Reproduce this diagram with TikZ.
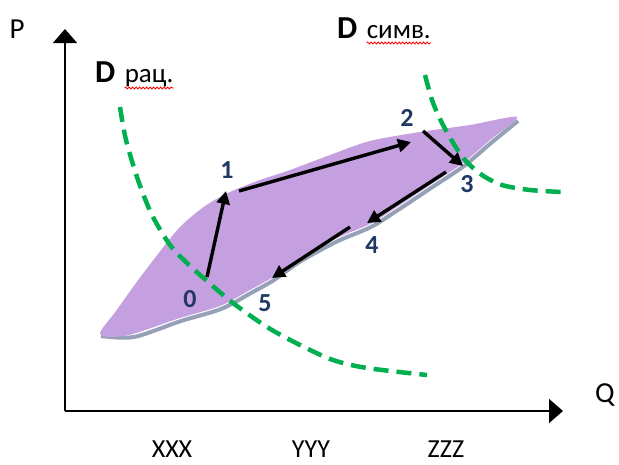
\documentclass[tikz,border=0pt]{standalone}
\usepackage{fontspec}
\setmainfont{Carlito}
\usetikzlibrary{arrows.meta,positioning,decorations.pathmorphing}
\definecolor{demGreen}{RGB}{0,176,80}
\definecolor{zoneLilac}{RGB}{197,160,224}
\definecolor{shadowGray}{RGB}{150,160,182}
\definecolor{stepNavy}{RGB}{31,56,100}

\begin{document}
\begin{tikzpicture}[x=1pt,y=-1pt,
    axis/.style={line width=1.6pt,-{Triangle[length=14pt,width=24pt]}},
    movearrow/.style={line width=3.4pt,-{Triangle[length=13pt,width=13pt]}},
    demand/.style={demGreen,line width=4.5pt,dash pattern=on 15pt off 8pt},
    steplab/.style={font=\fontsize{26}{28}\selectfont\bfseries,text=stepNavy,inner sep=0pt},
    axislab/.style={font=\fontsize{29}{31}\selectfont,inner sep=0pt},
    ticklab/.style={font=\fontsize{26}{28}\selectfont,inner sep=0pt},
    dlab/.style={font=\fontsize{32}{34}\selectfont\bfseries,inner sep=0pt},
    dword/.style={font=\fontsize{27}{29}\selectfont,inner sep=0pt},
    wavy/.style={red,line width=0.8pt,decorate,decoration={snake,amplitude=1pt,segment length=3.5pt}}
  ]
  \useasboundingbox (0,0) rectangle (619,464);

  % area of the cycle
  \draw[shadowGray,line width=4pt,shift={(1,3)}] plot[smooth] coordinates {
    (517,118) (490,140) (463,163) (430,185) (397,207) (370,224) (337,238)
    (300,258) (273,277) (250,290) (220,306) (180,318) (133,334) (100,333)};
  \fill[zoneLilac] plot[smooth cycle] coordinates {
    (100,333) (116,311) (136,283) (158,254) (180,227) (205,206) (230,192)
    (260,180) (290,170) (330,155) (370,141) (420,132) (470,125) (517,117)
    (490,140) (463,163) (430,185) (397,207) (370,224) (337,238)
    (300,258) (273,277) (250,290) (220,306) (180,318) (133,334) (112,337)};

  % axes
  \coordinate (origin) at (65,411);
  \coordinate (ptop) at (65,29);
  \coordinate (qend) at (563,411);
  \draw[axis] (origin) -- (ptop);
  \draw[axis] (origin) -- (qend);
  \node[axislab] (plab) at (17,29) {P};
  \node[axislab] (qlab) at (605,395) {Q};
  \node[ticklab] (xxx) at (172,449) {XXX};
  \node[ticklab] (yyy) at (311,449) {YYY};
  \node[ticklab] (zzz) at (446,449) {ZZZ};

  % demand curves
  \draw[demand] plot[smooth] coordinates {
    (120,107) (126,140) (138,180) (152,215) (170,245) (188,264) (207,281)
    (233,303) (267,327) (300,345) (333,360) (367,368) (427,375)};
  \draw[demand] plot[smooth] coordinates {
    (425,75) (432,100) (441,121) (452,141) (465,160) (482,175) (502,185)
    (530,190) (562,192)};

  \node[dlab,anchor=base west] (drac) at (95,82) {D};
  \node[dword,base right=9pt of drac] (rac) {рац.};
  \node[dlab,anchor=base west] (dsim) at (337,38) {D};
  \node[dword,base right=9pt of dsim] (sim) {симв.};
  \draw[wavy] ([yshift=-6pt]rac.base west) -- ([yshift=-6pt]rac.base east);
  \draw[wavy] ([yshift=-5pt]sim.base west) -- ([yshift=-5pt]sim.base east);

  % steps of the cycle
  \node[steplab] (p0) at (190,299) {0};
  \node[steplab] (p1) at (227,170) {1};
  \node[steplab] (p2) at (407,118) {2};
  \node[steplab] (p3) at (467,184) {3};
  \node[steplab] (p4) at (372,245) {4};
  \node[steplab] (p5) at (265,303) {5};

  \coordinate (s01) at (207,277);
  \coordinate (e01) at (226,191);
  \coordinate (s12) at (239,191);
  \coordinate (e12) at (411,142);
  \coordinate (s23) at (423,131);
  \coordinate (e23) at (463,166);
  \coordinate (s34) at (446,172);
  \coordinate (e34) at (367,223);
  \coordinate (s45) at (350,227);
  \coordinate (e45) at (272,278);
  \draw[movearrow] (s01) -- (e01);
  \draw[movearrow] (s12) -- (e12);
  \draw[movearrow] (s23) -- (e23);
  \draw[movearrow] (s34) -- (e34);
  \draw[movearrow] (s45) -- (e45);
\end{tikzpicture}
\end{document}
